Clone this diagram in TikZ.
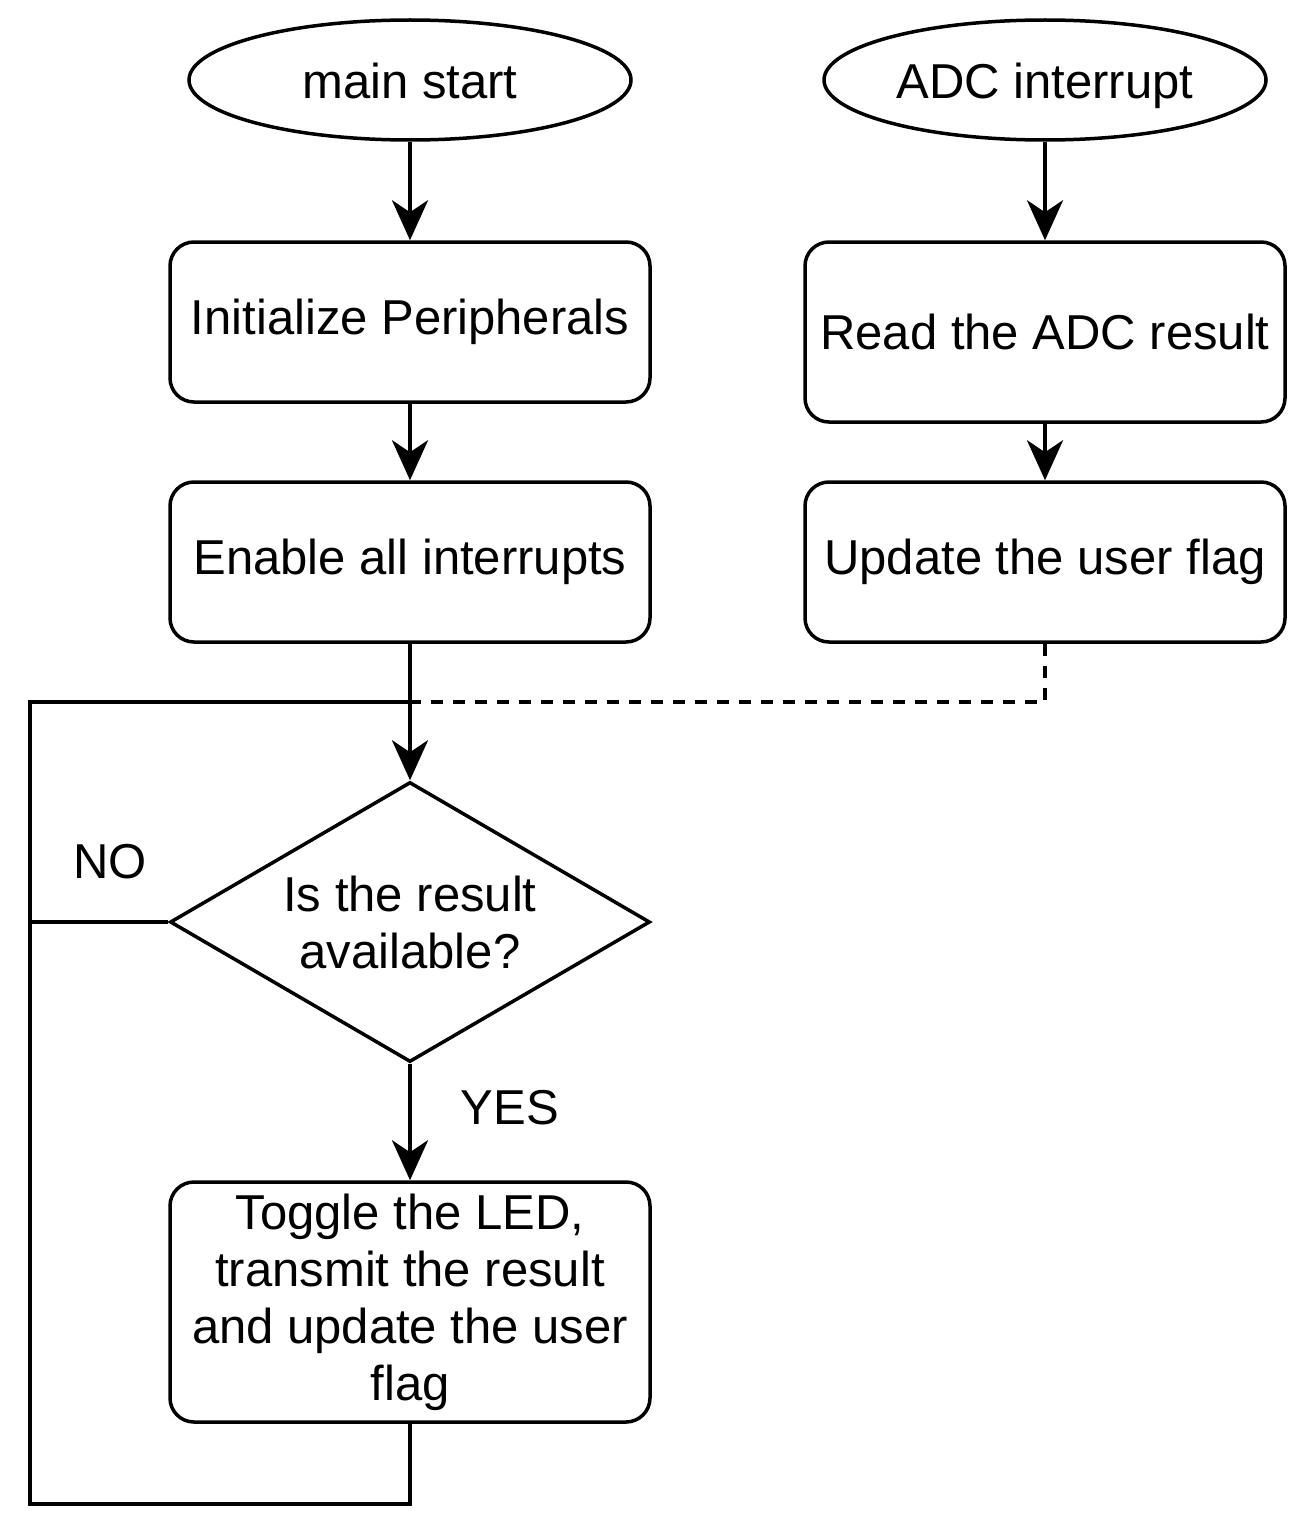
\documentclass[tikz,border=0pt]{standalone}
\usepackage{fontspec}
\setmainfont{Liberation Sans}
\usepackage{tikz}
\usetikzlibrary{positioning, arrows.meta, calc, shapes.geometric}

\tikzset{
  flow/.style={line width=4pt},
  flowarrow/.style={line width=4pt, -{Stealth[length=40pt, width=36pt, inset=12pt]}},
  startbox/.style={draw, ellipse, line width=3.5pt, minimum width=442pt, minimum height=120pt, inner sep=0pt, text height=48pt, text depth=10pt},
  procbox/.style={draw, rectangle, rounded corners=24pt, line width=3.5pt, minimum width=480pt, minimum height=160pt, align=center, inner sep=0pt},
  decidebox/.style={draw, diamond, aspect=1.714, line width=3.5pt, minimum width=480pt, minimum height=280pt, align=center, inner sep=0pt},
}

\begin{document}
\begin{tikzpicture}[x=1pt, y=-1pt, font=\fontsize{49}{57}\selectfont]
\useasboundingbox (0,0) rectangle (1288,1536);

\node[startbox](mainstart) at (410, 80) {main start};
\node[startbox](adcint) at (1045, 80) {ADC interrupt};

\node[procbox](initper) at (410, 322) {Initialize Peripherals};
\node[procbox](enableint) at (410, 562) {Enable all interrupts};

\node[procbox, minimum height=180pt](readadc) at (1045, 332) {Read the ADC result};
\node[procbox](updflag) at (1045, 562) {Update the user flag};

\node[decidebox](decide) at (410, 922) {Is the result\\available?};
\node[procbox, minimum height=240pt](toggle) at (410, 1302) {Toggle the LED,\\transmit the result\\and update the user\\flag};

\node(no) at (110, 862) {NO};
\node(yes) at (510, 1108) {YES};

\coordinate(merge) at (410, 702);
\coordinate(flagturn) at (1045, 702);
\coordinate(loopleft) at (30, 922);

\draw[flowarrow] (mainstart) -- (initper);
\draw[flowarrow] (initper) -- (enableint);
\draw[flowarrow] (adcint) -- (readadc);
\draw[flowarrow] (readadc) -- (updflag);
\draw[flowarrow] (enableint) -- (decide);
\draw[flowarrow] (decide) -- (toggle);
\draw[flow, dash pattern=on 12pt off 10pt] (updflag.south) -- (flagturn) -- (merge);
\draw[flow] (decide.west) -- (loopleft);
\draw[flow] (toggle.south) -- ++(0, 80) -| (loopleft) |- (merge);
\end{tikzpicture}
\end{document}
